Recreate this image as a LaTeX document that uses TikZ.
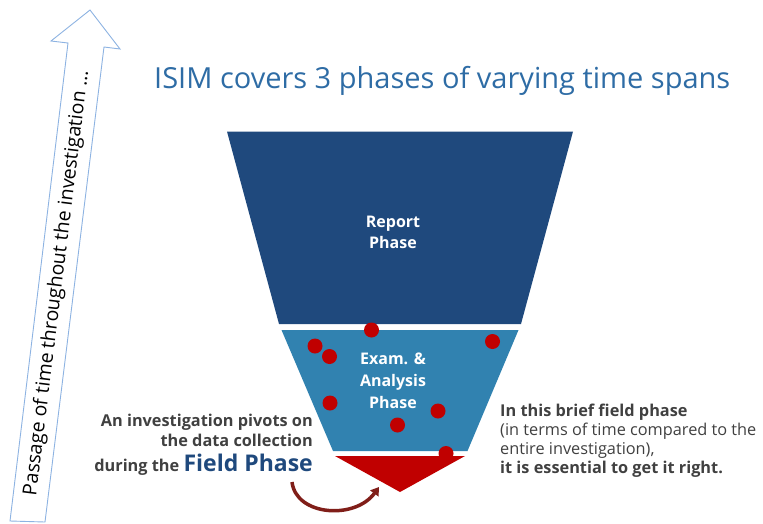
\documentclass[tikz,border=0pt]{standalone}
\usepackage{fontspec}
\setmainfont{Open Sans}
\usetikzlibrary{arrows.meta}
\definecolor{navy}{RGB}{31,73,125}
\definecolor{midblue}{RGB}{49,130,176}
\definecolor{fred}{RGB}{192,0,0}
\definecolor{titleblue}{RGB}{46,108,165}
\definecolor{txtgray}{RGB}{64,64,64}
\definecolor{arrowblue}{RGB}{141,179,226}
\definecolor{curvered}{RGB}{128,30,25}
\tikzset{
  dot/.style={circle,fill=fred,inner sep=0pt,minimum size=15pt},
  phaselbl/.style={text=white,font=\bfseries\fontsize{16}{21}\selectfont,align=center},
  sidetxt/.style={text=txtgray,font=\fontsize{16.3}{19}\selectfont,inner sep=0pt},
  lefttxt/.style={sidetxt,anchor=base east,font=\bfseries\fontsize{16.3}{19}\selectfont},
  righttxt/.style={sidetxt,anchor=base west},
}
\begin{document}
\begin{tikzpicture}[x=1pt,y=-1pt]
\path[use as bounding box] (0,0) rectangle (763,523);
% time arrow
\draw[arrowblue,line width=0.9pt,fill=white] (10,521) -- (68,43) -- (51,41) -- (90,10) -- (120,49) -- (104,47) -- (45,522) -- cycle;
\node[rotate=83,font=\fontsize{19.5}{22}\selectfont,text=black] (timetxt) at (57,283) {Passage of time throughout the investigation ...};
% title
\node[anchor=base west,text=titleblue,font=\fontsize{29}{32}\selectfont,inner sep=0pt] (title) at (154,88) {ISIM covers 3 phases of varying time spans};
% funnel
\fill[navy] (227,131.5) -- (573,131.5) -- (521,324) -- (279,324) -- cycle;
\fill[midblue] (281.5,330) -- (518.5,330) -- (467.5,451) -- (333,451) -- cycle;
\fill[fred] (335,456) -- (465,456) -- (400,492) -- cycle;
\node[phaselbl] (report) at (393,232) {Report\\Phase};
\node[phaselbl,font=\bfseries\fontsize{16}{22}\selectfont] (exam) at (393,381) {Exam. \&\\Analysis\\Phase};
% dots
\foreach \p [count=\i] in {(371.5,330),(315,346),(329.5,356.5),(492.5,341.5),(330,403),(438,411),(397.5,425),(446,453.5)}
  \node[dot] (d\i) at \p {};
% left text
\node[lefttxt] (left1) at (313,426.5) {An investigation pivots on};
\node[lefttxt] (left2) at (313,446.7) {the data collection};
\node[lefttxt] (left3) at (313,471.5) {during the \textcolor{navy}{\fontsize{23}{26}\selectfont Field Phase}};
% right text
\node[righttxt] (right1) at (500,416) {\bfseries In this brief field phase};
\node[righttxt] (right2) at (500,435.5) {(in terms of time compared to the};
\node[righttxt] (right3) at (500,454.5) {entire investigation),};
\node[righttxt] (right4) at (500,473.5) {\bfseries it is essential to get it right.};
% curved arrow
\coordinate (cs) at (292,482);
\coordinate (ce) at (379,487);
\draw[curvered,line width=3.5pt,-{Triangle[length=8pt,width=10pt]}] (cs) .. controls (296,516) and (355,520) .. (ce);
\end{tikzpicture}
\end{document}
